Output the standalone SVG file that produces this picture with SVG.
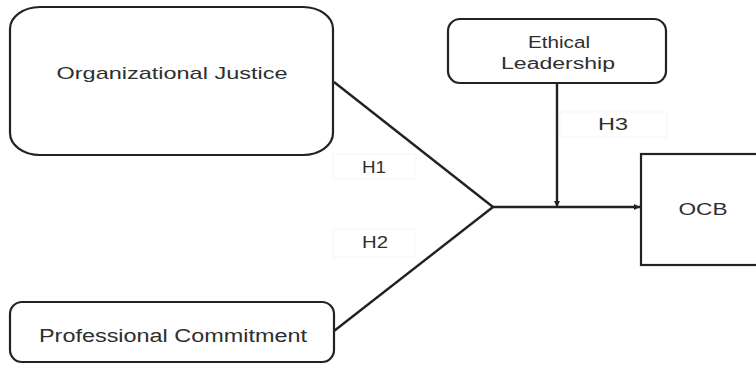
<svg xmlns="http://www.w3.org/2000/svg" width="756" height="365" viewBox="0 0 756 365">
  <defs>
    <marker id="arrow" viewBox="0 0 10 10" refX="10" refY="5" markerWidth="7" markerHeight="6" orient="auto" markerUnits="userSpaceOnUse">
      <path d="M0,0 L10,5 L0,10 z" fill="#222"/>
    </marker>
    <style>
      .box { fill: #fff; stroke: #222; stroke-width: 2.2; }
      .lbl { font-family: "Liberation Sans", Arial, sans-serif; fill: #2e2e2e; text-anchor: middle; }
      .hbox { fill: #fff; stroke: #f5f5f5; stroke-width: 1; }
      .conn { stroke: #222; stroke-width: 2.4; fill: none; }
    </style>
  </defs>
  <rect width="756" height="365" fill="#fff"/>

  <g id="connectors">
    <line class="conn" x1="334" y1="82" x2="493" y2="207"/>
    <line class="conn" x1="334" y1="331" x2="493" y2="207"/>
    <line class="conn" x1="493" y1="207" x2="640" y2="207" marker-end="url(#arrow)"/>
    <line class="conn" x1="557" y1="84" x2="557" y2="207" marker-end="url(#arrow)"/>
  </g>

  <g id="h1">
    <rect class="hbox" x="333" y="154" width="82" height="25"/>
    <text class="lbl" x="374" y="173" font-size="16" textLength="24" lengthAdjust="spacingAndGlyphs">H1</text>
  </g>
  <g id="h2">
    <rect class="hbox" x="333" y="229" width="82" height="28"/>
    <text class="lbl" x="375" y="248" font-size="16" textLength="26" lengthAdjust="spacingAndGlyphs">H2</text>
  </g>
  <g id="h3">
    <rect class="hbox" x="560" y="112" width="107" height="25"/>
    <text class="lbl" x="613" y="130" font-size="16" textLength="30" lengthAdjust="spacingAndGlyphs">H3</text>
  </g>

  <g id="organizational-justice">
    <rect class="box" x="10" y="7" width="323" height="148" rx="30" ry="22"/>
    <text class="lbl" x="172" y="79" font-size="17" textLength="231" lengthAdjust="spacingAndGlyphs">Organizational Justice</text>
  </g>

  <g id="professional-commitment">
    <rect class="box" x="10" y="302" width="324" height="60" rx="12" ry="12"/>
    <text class="lbl" x="173" y="342" font-size="18" textLength="268" lengthAdjust="spacingAndGlyphs">Professional Commitment</text>
  </g>

  <g id="ethical-leadership">
    <rect class="box" x="448" y="19" width="218" height="64" rx="12" ry="12"/>
    <text class="lbl" x="559" y="48" font-size="16" textLength="62" lengthAdjust="spacingAndGlyphs">Ethical</text>
    <text class="lbl" x="558" y="69" font-size="16" textLength="114" lengthAdjust="spacingAndGlyphs">Leadership</text>
  </g>

  <g id="ocb">
    <rect class="box" x="641" y="154" width="130" height="111"/>
    <text class="lbl" x="703" y="215" font-size="16" textLength="49" lengthAdjust="spacingAndGlyphs">OCB</text>
  </g>
</svg>
